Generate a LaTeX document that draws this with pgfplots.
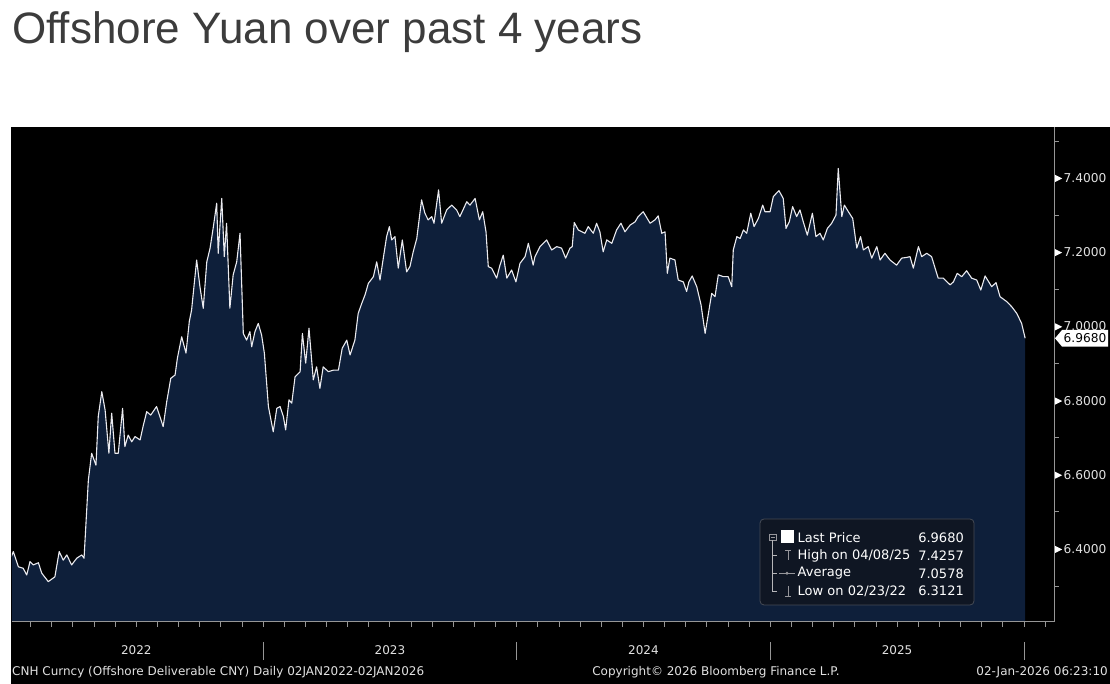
\documentclass[border=0pt]{standalone}
\usepackage{pgfplots}
\pgfplotsset{compat=1.18}
\usepackage{pgfplotstable}
\usepackage{fontspec}
\setmainfont{DejaVu Sans}
\newfontfamily\titlefont{Liberation Sans}
\definecolor{navyfill}{RGB}{14,31,58}
\definecolor{axgray}{RGB}{150,150,150}
\definecolor{lbl}{RGB}{225,225,225}
\definecolor{titlegray}{RGB}{60,60,60}
\definecolor{legbg}{RGB}{15,22,35}
\definecolor{legborder}{RGB}{70,75,85}
\definecolor{iconfg}{RGB}{150,150,155}

\pgfplotstableread{
x y
2022.002 6.370
2022.015 6.393
2022.035 6.352
2022.054 6.348
2022.068 6.330
2022.081 6.366
2022.094 6.357
2022.114 6.363
2022.127 6.335
2022.153 6.312
2022.179 6.325
2022.196 6.393
2022.212 6.370
2022.226 6.384
2022.245 6.357
2022.265 6.375
2022.285 6.384
2022.294 6.375
2022.311 6.586
2022.324 6.658
2022.341 6.626
2022.350 6.757
2022.364 6.824
2022.377 6.775
2022.392 6.658
2022.403 6.766
2022.416 6.658
2022.429 6.658
2022.446 6.779
2022.455 6.676
2022.468 6.707
2022.482 6.689
2022.495 6.703
2022.515 6.694
2022.528 6.734
2022.541 6.770
2022.557 6.761
2022.580 6.784
2022.593 6.757
2022.606 6.730
2022.620 6.797
2022.636 6.860
2022.653 6.869
2022.662 6.914
2022.679 6.972
2022.696 6.928
2022.709 7.013
2022.718 7.044
2022.738 7.179
2022.751 7.107
2022.764 7.049
2022.778 7.174
2022.791 7.211
2022.804 7.269
2022.817 7.332
2022.823 7.197
2022.837 7.345
2022.847 7.188
2022.856 7.278
2022.869 7.049
2022.882 7.139
2022.896 7.174
2022.909 7.251
2022.922 6.981
2022.935 6.963
2022.948 6.986
2022.955 6.945
2022.968 6.986
2022.981 7.008
2022.994 6.977
2023.005 6.928
2023.021 6.784
2023.040 6.716
2023.054 6.779
2023.067 6.784
2023.080 6.757
2023.089 6.721
2023.102 6.802
2023.113 6.793
2023.126 6.864
2023.146 6.878
2023.155 6.981
2023.168 6.901
2023.181 6.995
2023.198 6.856
2023.211 6.891
2023.224 6.833
2023.237 6.891
2023.257 6.878
2023.277 6.882
2023.297 6.882
2023.312 6.941
2023.330 6.963
2023.343 6.923
2023.362 6.963
2023.375 7.035
2023.389 7.062
2023.402 7.085
2023.415 7.116
2023.435 7.134
2023.448 7.174
2023.461 7.125
2023.474 7.184
2023.487 7.242
2023.498 7.269
2023.507 7.233
2023.520 7.242
2023.533 7.157
2023.549 7.233
2023.566 7.147
2023.579 7.161
2023.592 7.201
2023.606 7.237
2023.625 7.341
2023.638 7.305
2023.651 7.287
2023.665 7.296
2023.674 7.278
2023.692 7.368
2023.704 7.278
2023.724 7.314
2023.744 7.327
2023.763 7.314
2023.776 7.296
2023.803 7.336
2023.816 7.327
2023.836 7.345
2023.853 7.287
2023.866 7.309
2023.879 7.255
2023.888 7.161
2023.901 7.157
2023.921 7.130
2023.934 7.165
2023.947 7.192
2023.961 7.130
2023.980 7.152
2023.997 7.120
2024.013 7.170
2024.033 7.188
2024.046 7.224
2024.065 7.165
2024.072 7.188
2024.092 7.215
2024.118 7.233
2024.138 7.206
2024.158 7.215
2024.177 7.211
2024.193 7.184
2024.210 7.211
2024.219 7.215
2024.227 7.280
2024.243 7.260
2024.269 7.251
2024.282 7.269
2024.302 7.251
2024.315 7.278
2024.328 7.255
2024.341 7.201
2024.355 7.233
2024.375 7.224
2024.394 7.260
2024.411 7.278
2024.427 7.255
2024.447 7.273
2024.467 7.282
2024.479 7.296
2024.499 7.309
2024.526 7.278
2024.545 7.287
2024.558 7.298
2024.572 7.251
2024.585 7.255
2024.594 7.143
2024.604 7.184
2024.624 7.179
2024.637 7.125
2024.657 7.120
2024.670 7.094
2024.679 7.120
2024.692 7.136
2024.710 7.107
2024.727 7.058
2024.743 6.981
2024.756 7.035
2024.769 7.089
2024.782 7.080
2024.795 7.139
2024.815 7.134
2024.834 7.134
2024.848 7.107
2024.854 7.206
2024.868 7.242
2024.881 7.237
2024.894 7.260
2024.907 7.251
2024.923 7.305
2024.936 7.269
2024.953 7.291
2024.970 7.327
2024.979 7.309
2024.999 7.309
2025.012 7.350
2025.034 7.366
2025.051 7.345
2025.062 7.264
2025.075 7.282
2025.088 7.323
2025.104 7.296
2025.117 7.314
2025.130 7.282
2025.146 7.246
2025.166 7.305
2025.180 7.242
2025.196 7.251
2025.209 7.233
2025.225 7.264
2025.242 7.278
2025.259 7.300
2025.268 7.4257
2025.282 7.296
2025.292 7.327
2025.308 7.309
2025.325 7.291
2025.341 7.211
2025.356 7.242
2025.367 7.206
2025.386 7.215
2025.400 7.184
2025.420 7.215
2025.433 7.179
2025.452 7.197
2025.472 7.179
2025.498 7.165
2025.518 7.184
2025.538 7.186
2025.551 7.188
2025.564 7.157
2025.584 7.215
2025.597 7.188
2025.617 7.197
2025.636 7.188
2025.662 7.130
2025.682 7.130
2025.709 7.112
2025.722 7.120
2025.737 7.143
2025.755 7.134
2025.774 7.150
2025.794 7.130
2025.814 7.125
2025.830 7.098
2025.847 7.136
2025.873 7.107
2025.890 7.118
2025.906 7.080
2025.932 7.067
2025.952 7.053
2025.972 7.035
2025.991 7.008
2026.005 6.968
}\cnhdata

\begin{document}
\begin{tikzpicture}[x=1pt,y=1pt]
\fill[white] (0,0) rectangle (1110,684);
\fill[black] (11,0) rectangle (1110,557);
\node[anchor=base west, inner sep=0pt, text=titlegray, font=\titlefont\fontsize{44}{50}\selectfont] at (12,640) {Offshore Yuan over past 4 years};

\begin{axis}[
  at={(12pt,62pt)}, anchor=south west,
  width=1042pt, height=495pt, scale only axis,
  xmin=2022.0099, xmax=2026.1187, ymin=6.2032, ymax=7.5375,
  axis x line*=bottom, axis y line*=right,
  axis line style={axgray, line width=1pt, -},
  axis on top,
  clip mode=individual,
  scaled x ticks=false,
  xtick=\empty,
  ytick={6.4,6.6,6.8,7.0,7.2,7.4},
  minor ytick={6.3,6.5,6.7,6.9,7.1,7.3,7.5},
  tick align=outside,
  major tick length=5pt, minor tick length=5pt,
  tick style={axgray, line width=0.8pt},
  minor tick style={axgray, line width=0.8pt},
  yticklabel={\tikz[baseline=-0.6ex]\fill[white] (0,-3.5pt)--(7pt,0)--(0,3.5pt)--cycle;\hspace{1.5pt}\pgfmathprintnumber[fixed,fixed zerofill,precision=4]{\tick}},
  yticklabel style={anchor=west, inner sep=0pt, xshift=-4pt, text=lbl, font=\fontsize{12.2}{14}\selectfont},
  /pgf/number format/assume math mode=true,
]
\addplot[fill=navyfill, draw=none] table[x=x,y=y] {\cnhdata} \closedcycle;
\addplot[draw={rgb,255:red,235;green,235;blue,240}, line width=1.1pt, line join=round] table[x=x,y=y] {\cnhdata};
% monthly tick marks on the time axis
\pgfplotsinvokeforeach{2022.0833,2022.1667,2022.25,2022.3333,2022.4167,2022.5,2022.5833,2022.6667,2022.75,2022.8333,2022.9167,2023,
    2023.0833,2023.1667,2023.25,2023.3333,2023.4167,2023.5,2023.5833,2023.6667,2023.75,2023.8333,2023.9167,2024,
    2024.0833,2024.1667,2024.25,2024.3333,2024.4167,2024.5,2024.5833,2024.6667,2024.75,2024.8333,2024.9167,2025,
    2025.0833,2025.1667,2025.25,2025.3333,2025.4167,2025.5,2025.5833,2025.6667,2025.75,2025.8333,2025.9167,2026,2026.0833}{
  \draw[axgray, line width=0.8pt] ([yshift=-0.5pt]axis cs:#1,6.2032) -- ([yshift=-5.5pt]axis cs:#1,6.2032);
}
\draw[axgray, line width=0.8pt] ([yshift=-20pt]axis cs:2023,6.2032) -- ([yshift=-38pt]axis cs:2023,6.2032);
\draw[axgray, line width=0.8pt] ([yshift=-20pt]axis cs:2024,6.2032) -- ([yshift=-38pt]axis cs:2024,6.2032);
\draw[axgray, line width=0.8pt] ([yshift=-20pt]axis cs:2025,6.2032) -- ([yshift=-38pt]axis cs:2025,6.2032);
\draw[axgray, line width=0.8pt] ([yshift=-20pt]axis cs:2026,6.2032) -- ([yshift=-38pt]axis cs:2026,6.2032);
\node[text=lbl, font=\fontsize{12}{14}\selectfont] at ([yshift=-28pt]axis cs:2022.5,6.2032) {2022};
\node[text=lbl, font=\fontsize{12}{14}\selectfont] at ([yshift=-28pt]axis cs:2023.5,6.2032) {2023};
\node[text=lbl, font=\fontsize{12}{14}\selectfont] at ([yshift=-28pt]axis cs:2024.5,6.2032) {2024};
\node[text=lbl, font=\fontsize{12}{14}\selectfont] at ([yshift=-28pt]axis cs:2025.5,6.2032) {2025};
\end{axis}

% last price tag
\fill[white] (1055,345.7) -- (1062,354) -- (1108,354) -- (1108,337.4) -- (1062,337.4) -- cycle;
\node[anchor=east, inner sep=0pt, text=black, font=\fontsize{12.2}{14}\selectfont] at (1106.5,345.7) {6.9680};

% legend box
\draw[legborder, fill=legbg, rounded corners=4pt, line width=0.8pt] (760,79) rectangle (974,165);
\draw[iconfg, line width=0.6pt] (769.5,143.5) rectangle (776,150);
\draw[iconfg, line width=0.6pt] (771,146.75) -- (774.5,146.75);
\draw[iconfg!70, line width=0.5pt] (772.7,143.5) -- (772.7,93) -- (777,93);
\draw[iconfg!70, line width=0.5pt] (772.7,128.3) -- (777,128.3);
\draw[iconfg!70, line width=0.5pt] (772.7,110.7) -- (777,110.7);
\fill[white] (781,141) rectangle (793.5,153.5);
% high icon
\draw[iconfg, line width=0.8pt] (785,133.5) -- (791,133.5) (788,133.5) -- (788,123.5);
% average icon
\draw[iconfg, line width=0.8pt] (779,110.7) -- (795,110.7);
\fill[iconfg] (787,110.7) circle (1.6pt);
% low icon
\draw[iconfg, line width=0.8pt] (785,88) -- (791,88) (788,88) -- (788,98);
\begin{scope}[every node/.style={text=white, inner sep=0pt, font=\fontsize{13}{15}\selectfont}]
\node[anchor=west] at (797.5,146.3) {Last Price};
\node[anchor=east] at (964,146.3) {6.9680};
\node[anchor=west] at (797.5,128.3) {High on 04/08/25};
\node[anchor=east] at (964,128.3) {7.4257};
\node[anchor=west] at (797.5,110.7) {Average};
\node[anchor=east] at (964,110.7) {7.0578};
\node[anchor=west] at (797.5,93) {Low on 02/23/22};
\node[anchor=east] at (964,93) {6.3121};
\end{scope}

% footer
\begin{scope}[every node/.style={text=lbl, inner sep=0pt, font=\fontsize{12}{14}\selectfont}]
\node[anchor=base west] at (12,8.5) {CNH Curncy (Offshore Deliverable CNY) Daily 02JAN2022-02JAN2026};
\node[anchor=base] at (716,8.5) {Copyright© 2026 Bloomberg Finance L.P.};
\node[anchor=base east] at (1108,8.5) {02-Jan-2026 06:23:10};
\end{scope}
\end{tikzpicture}
\end{document}
